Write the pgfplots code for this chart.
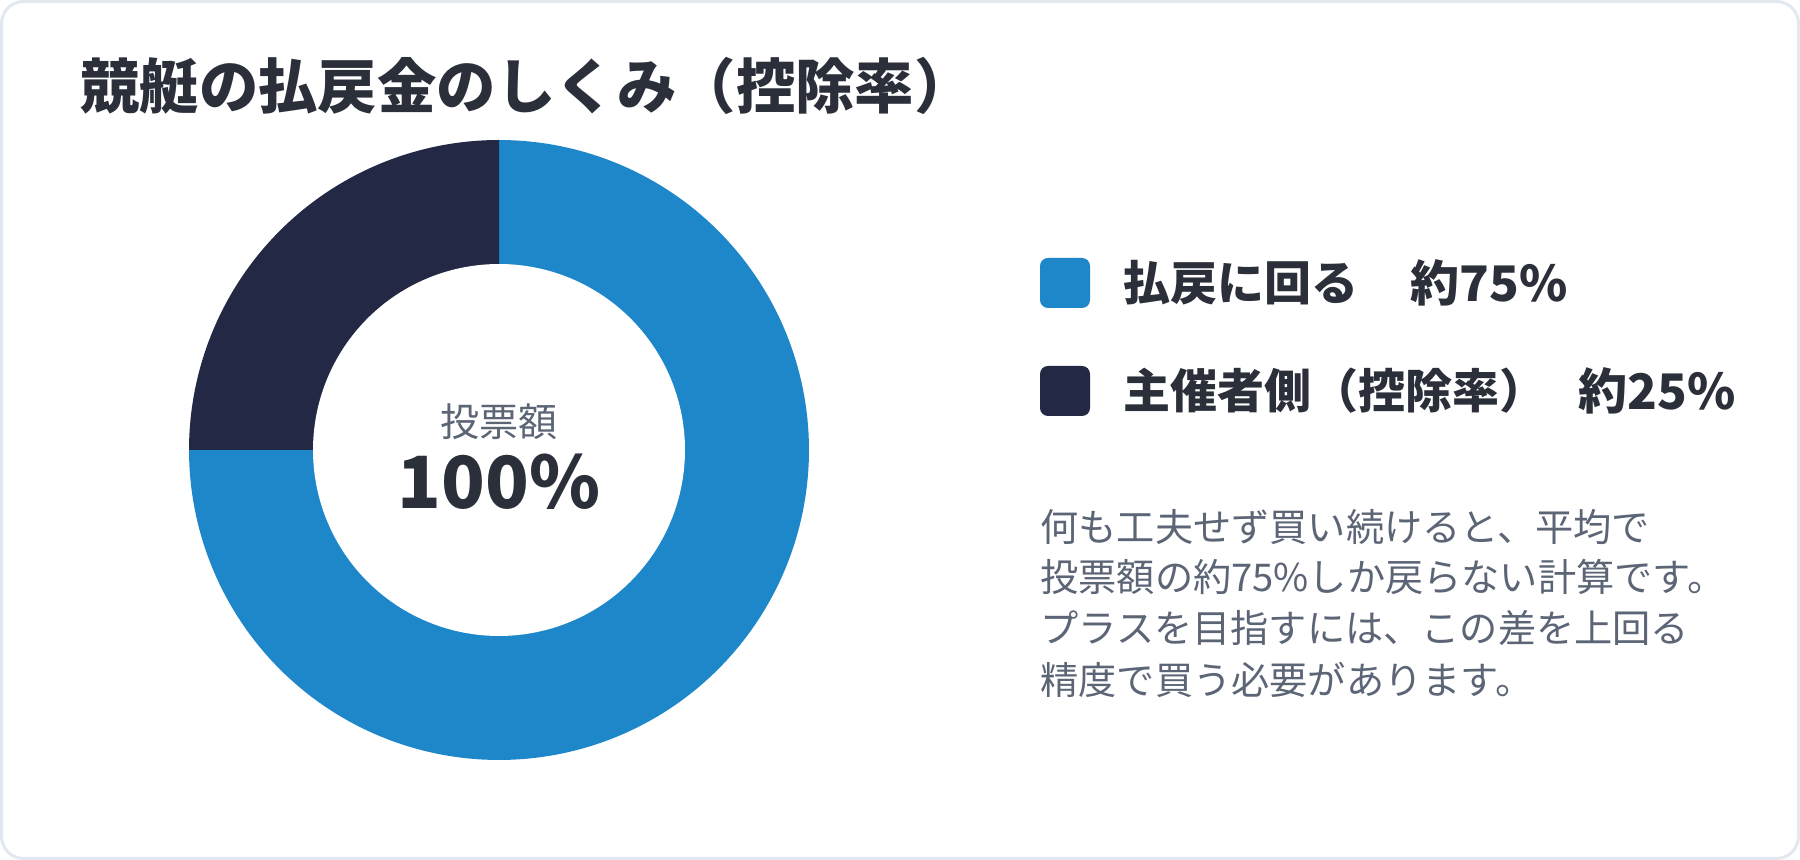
\documentclass[border=0pt]{standalone}
\usepackage{fontspec}
\setmainfont{Noto Sans CJK JP}
\usepackage{pgfplots}
\pgfplotsset{compat=1.18}
\definecolor{cblue}{HTML}{1E87C9}
\definecolor{cnavy}{HTML}{232845}
\definecolor{ctext}{HTML}{2B2F3A}
\definecolor{cgray}{HTML}{5C6576}
\definecolor{cborder}{HTML}{E2E8F0}
% data: share of the stake (percent)
\def\shareReturn{75}
\def\shareTake{25}
\begin{document}
\begin{tikzpicture}
\useasboundingbox (0,0) rectangle (900pt,430pt);
\draw[cborder, line width=1.5pt, rounded corners=11pt, fill=white] (0.75pt,0.75pt) rectangle (899.25pt,429.25pt);
\pgfmathsetmacro{\aStart}{90}
\pgfmathsetmacro{\aMid}{90-3.6*\shareReturn}
\pgfmathsetmacro{\aEnd}{\aMid-3.6*\shareTake}
\begin{axis}[at={(249.5pt,205pt)}, anchor=center, scale only axis,
  width=310pt, height=310pt, xmin=-1, xmax=1, ymin=-1, ymax=1,
  hide axis, clip=false]
\addplot[fill=cblue, draw=none, domain=\aMid:\aStart, samples=200] ({cos(x)},{sin(x)}) -- (axis cs:0,0) -- cycle;
\addplot[fill=cnavy, draw=none, domain=\aEnd:\aMid, samples=100] ({cos(x)},{sin(x)}) -- (axis cs:0,0) -- cycle;
\addplot[fill=white, draw=none, domain=0:360, samples=240] ({0.6*cos(x)},{0.6*sin(x)}) -- cycle;
\end{axis}
% title
\node[anchor=west, inner sep=0pt, text=ctext, font=\fontsize{29.7pt}{36pt}\selectfont\bfseries] at (40pt,387pt) {競艇の払戻金のしくみ（控除率）};
% centre text
\node[anchor=center, inner sep=0pt, text=cgray, font=\fontsize{19.5pt}{24pt}\selectfont] at (249.5pt,219pt) {投票額};
\node[anchor=center, inner sep=0pt, text=ctext, font=\fontsize{36pt}{44pt}\selectfont\bfseries] at (249.5pt,189pt) {100\%};
% legend
\fill[cblue, rounded corners=4pt] (520pt,276pt) rectangle (545pt,301pt);
\fill[cnavy, rounded corners=4pt] (520pt,222pt) rectangle (545pt,247pt);
\begin{scope}[every node/.style={anchor=west, inner sep=0pt, text=ctext, font=\fontsize{23.5pt}{28pt}\selectfont\bfseries}]
\node at (561.5pt,288.5pt) {払戻に回る};
\node[font=\fontsize{24.5pt}{28pt}\selectfont\bfseries] at (705pt,288.5pt) {約75\%};
\node at (561.5pt,234.5pt) {主催者側（控除率）};
\node[font=\fontsize{24.5pt}{28pt}\selectfont\bfseries] at (789pt,234.5pt) {約25\%};
\end{scope}
% note
\begin{scope}[every node/.style={anchor=west, inner sep=0pt, text=cgray, font=\fontsize{19.1pt}{24pt}\selectfont}]
\node at (520pt,166.5pt) {何も工夫せず買い続けると、平均で};
\node at (520pt,141.5pt) {投票額の約75\%しか戻らない計算です。};
\node at (520pt,116pt) {プラスを目指すには、この差を上回る};
\node at (520pt,90pt) {精度で買う必要があります。};
\end{scope}
\end{tikzpicture}
\end{document}
